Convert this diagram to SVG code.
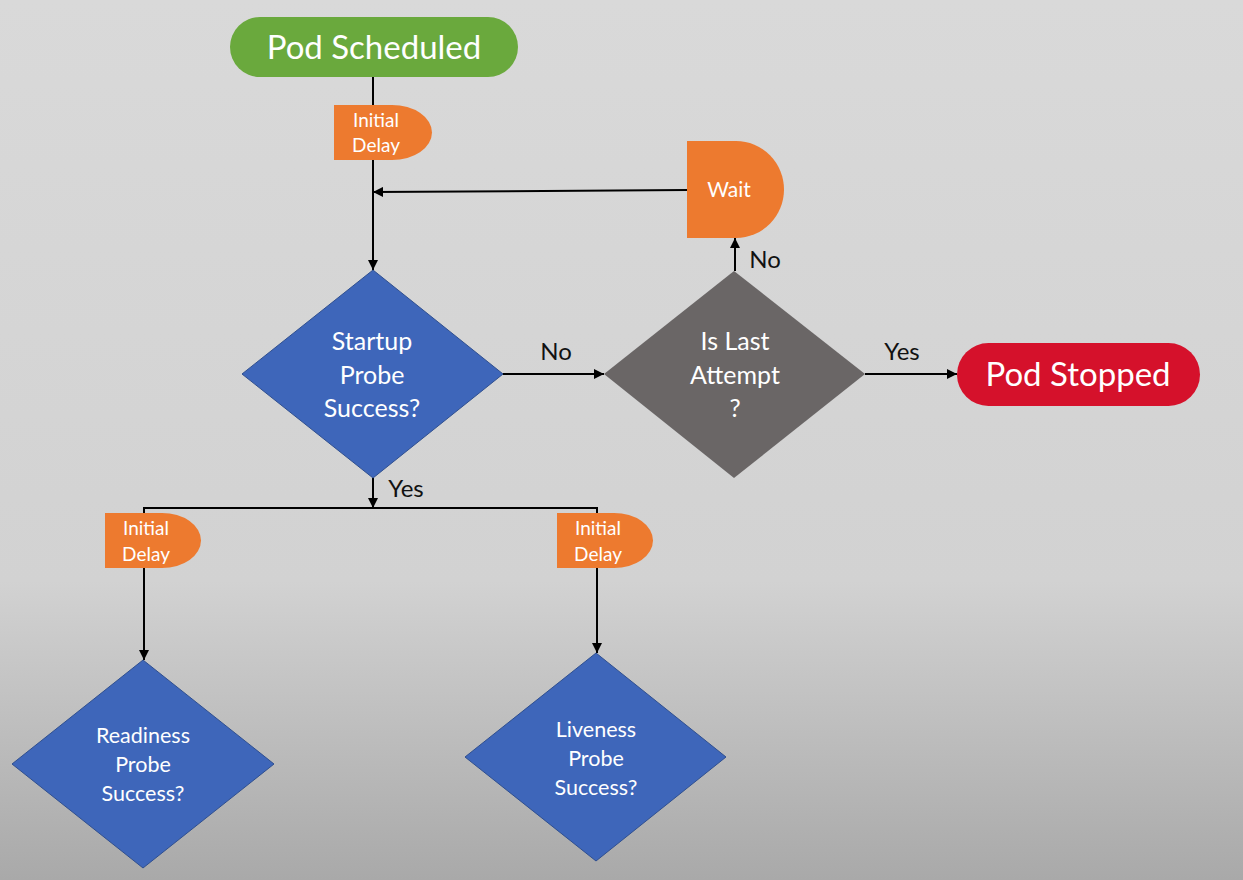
<svg xmlns="http://www.w3.org/2000/svg" width="1243" height="880" viewBox="0 0 1243 880">
<defs>
<linearGradient id="bg" x1="0" y1="0" x2="0" y2="1">
<stop offset="0" stop-color="#d9d9d9"/>
<stop offset="0.66" stop-color="#d2d2d2"/>
<stop offset="1" stop-color="#a9a9a9"/>
</linearGradient>
<marker id="arr" viewBox="0 0 10 10" refX="10" refY="5" markerWidth="10" markerHeight="10" markerUnits="userSpaceOnUse" orient="auto">
<path d="M0,0 L10,5 L0,10 Z" fill="#000"/>
</marker>
<style>
text{font-family:Lato,"Open Sans","Liberation Sans",sans-serif;text-anchor:middle}
.w{fill:#fff}
.lbl{fill:#111;font-size:24px}
.big{font-size:33px}
.dia{font-size:25px}
.small{font-size:21.5px}
.wait{font-size:21px}
.dly{font-size:19px}
.blue{fill:#3e66ba;stroke:#2f4f8f;stroke-width:1}
.orange{fill:#ed7a2f}
.con{stroke:#000;stroke-width:2;fill:none}
</style>
</defs>
<rect width="1243" height="880" fill="url(#bg)"/>

<g id="connectors">
<line class="con" x1="373" y1="77" x2="373" y2="105"/>
<line class="con" x1="373" y1="160" x2="373" y2="270" marker-end="url(#arr)"/>
<line class="con" x1="687" y1="190" x2="373" y2="192" marker-end="url(#arr)"/>
<line class="con" x1="503" y1="374" x2="604" y2="374" marker-end="url(#arr)"/>
<line class="con" x1="735" y1="271" x2="735" y2="238" marker-end="url(#arr)"/>
<line class="con" x1="865" y1="374" x2="957" y2="374" marker-end="url(#arr)"/>
<line class="con" x1="373" y1="478" x2="373" y2="508" marker-end="url(#arr)"/>
<polyline class="con" points="144,513 144,508 597,508 597,513"/>
<line class="con" x1="144" y1="568" x2="144" y2="660" marker-end="url(#arr)"/>
<line class="con" x1="597" y1="568" x2="597" y2="653" marker-end="url(#arr)"/>
<text class="lbl" x="556" y="360">No</text>
<text class="lbl" x="765" y="268">No</text>
<text class="lbl" x="902" y="360">Yes</text>
<text class="lbl" x="406" y="497">Yes</text>
</g>

<g id="pod-scheduled">
<rect x="230" y="17" width="288" height="60" rx="30" fill="#6aa93d"/>
<text class="w big" x="374" y="59">Pod Scheduled</text>
</g>

<g id="initial-delay-top">
<path class="orange" d="M334,105 H392 A40,27.5 0 0 1 392,160 H334 Z"/>
<text class="w dly" x="376" y="127">Initial</text>
<text class="w dly" x="376" y="152">Delay</text>
</g>

<g id="wait">
<path class="orange" d="M687,141 H736 A48,48.5 0 0 1 736,238 H687 Z"/>
<text class="w wait" x="729" y="197">Wait</text>
</g>

<g id="startup-probe">
<polygon class="blue" points="373,270 503,374 373,478 242,374"/>
<text class="w dia" x="372" y="350">Startup</text>
<text class="w dia" x="372" y="384">Probe</text>
<text class="w dia" x="372" y="417">Success?</text>
</g>

<g id="is-last-attempt">
<polygon points="734,271 865,374 734,478 604,374" fill="#6a6666"/>
<text class="w dia" x="735" y="350">Is Last</text>
<text class="w dia" x="735" y="384">Attempt</text>
<text class="w dia" x="735" y="417">?</text>
</g>

<g id="pod-stopped">
<rect x="957" y="343" width="243" height="63" rx="31.5" fill="#d5112b"/>
<text class="w big" x="1078" y="386">Pod Stopped</text>
</g>

<g id="initial-delay-left">
<path class="orange" d="M105,513 H162 A39,27.5 0 0 1 162,568 H105 Z"/>
<text class="w dly" x="146" y="535">Initial</text>
<text class="w dly" x="146" y="561">Delay</text>
</g>

<g id="initial-delay-right">
<path class="orange" d="M557,513 H614 A39,27.5 0 0 1 614,568 H557 Z"/>
<text class="w dly" x="598" y="535">Initial</text>
<text class="w dly" x="598" y="561">Delay</text>
</g>

<g id="readiness-probe">
<polygon class="blue" points="143,660 274,764 143,868 12,764"/>
<text class="w small" x="143" y="743">Readiness</text>
<text class="w small" x="143" y="772">Probe</text>
<text class="w small" x="143" y="801">Success?</text>
</g>

<g id="liveness-probe">
<polygon class="blue" points="596,653 726,757 596,861 465,757"/>
<text class="w small" x="596" y="737">Liveness</text>
<text class="w small" x="596" y="766">Probe</text>
<text class="w small" x="596" y="795">Success?</text>
</g>
</svg>
